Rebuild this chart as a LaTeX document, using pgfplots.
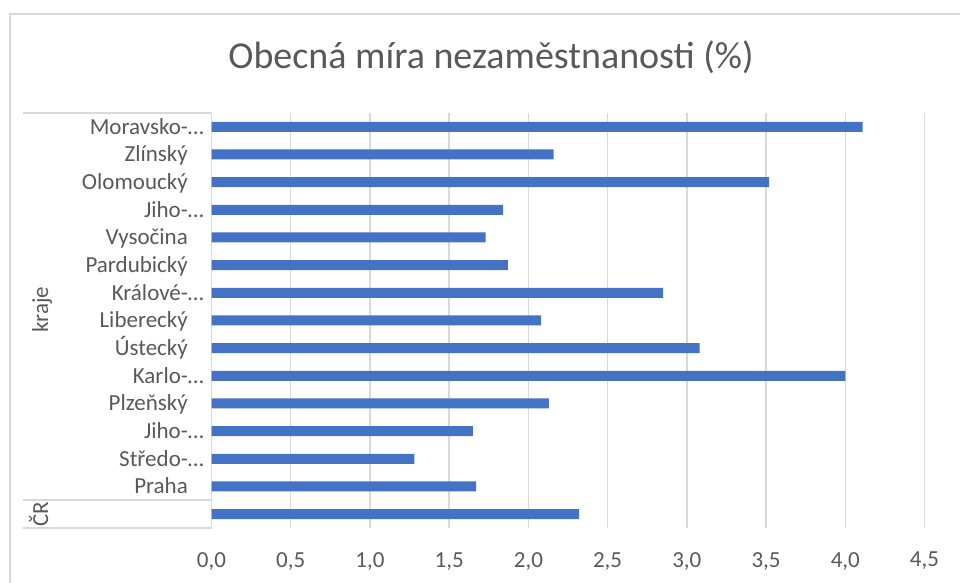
\documentclass[border=0pt]{standalone}
\usepackage{pgfplots}
\pgfplotsset{compat=1.18}
\usepackage{fontspec}
\setmainfont{Carlito}
\definecolor{barblue}{HTML}{4472C4}
\definecolor{gridgray}{HTML}{D9D9D9}
\definecolor{txt}{HTML}{595959}
\newcommand\lab{\fontsize{23bp}{27bp}\selectfont}
\newcommand\pad{\hspace*{16bp}}
\begin{document}
\begin{tikzpicture}
\useasboundingbox (0,0) rectangle (960bp,583bp);
% chart area border (left and top visible)
\draw[gridgray, line width=1.5bp] (10bp,0bp) -- (10bp,569bp) -- (961bp,569bp);
% title
\node[anchor=base, text=txt, inner sep=0pt, font=\fontsize{38bp}{44bp}\selectfont] at (491bp,514bp) {Obecná míra nezaměstnanosti (\%)};
\begin{axis}[
  at={(211.5bp,55bp)}, anchor=south west,
  scale only axis, width=713bp, height=415bp,
  xbar, bar width=10bp,
  xmin=0, xmax=4.5, ymin=-0.5, ymax=14.5,
  xtick={0,0.5,1,1.5,2,2.5,3,3.5,4,4.5},
  ytick={0,...,14},
  yticklabels={{},{Praha\pad},{Středo-…},{Jiho-…},{Plzeňský\pad},{Karlo-…},{Ústecký\pad},{Liberecký\pad},{Králové-…},{Pardubický\pad},{Vysočina\pad},{Jiho-…},{Olomoucký\pad},{Zlínský\pad},{Moravsko-…}},
  xmajorgrids, major grid style={draw=gridgray, line width=1.5bp},
  axis line style={draw=none}, major tick length=0pt,
  /pgf/number format/.cd, fixed, fixed zerofill, precision=1, use comma, assume math mode=true,
  /pgfplots/.cd,
  xticklabel style={anchor=north, inner sep=0pt, yshift=-24bp, text=txt, font=\lab},
  yticklabel style={anchor=base east, inner sep=0pt, xshift=-7.5bp, yshift=-7.5bp, text=txt, font=\lab},
  clip=false,
]
\addplot[fill=barblue, draw=none] coordinates {
  (2.32,0) (1.67,1) (1.28,2) (1.65,3) (2.13,4) (4.00,5) (3.08,6) (2.08,7)
  (2.85,8) (1.87,9) (1.73,10) (1.84,11) (3.52,12) (2.16,13) (4.11,14)
};
\end{axis}
% multi-level category box
\draw[gridgray, line width=1.5bp] (23bp,470bp) -- (212bp,470bp);
\draw[gridgray, line width=1.5bp] (23bp,83bp) -- (212bp,83bp);
\draw[gridgray, line width=1.5bp] (23bp,55bp) -- (212bp,55bp);
\node[rotate=90, anchor=base, inner sep=0pt, text=txt, font=\lab] at (48bp,273bp) {kraje};
\node[rotate=90, anchor=base, inner sep=0pt, text=txt, font=\lab] at (48bp,69bp) {ČR};
\end{tikzpicture}
\end{document}
